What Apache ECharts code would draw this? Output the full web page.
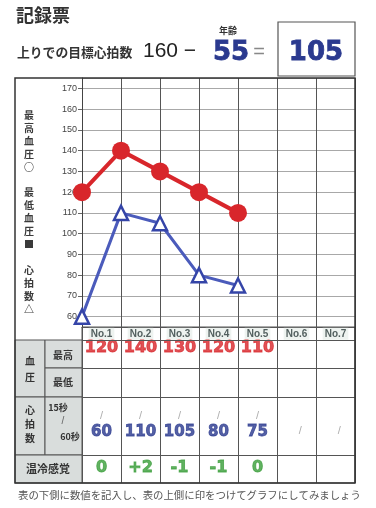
<!DOCTYPE html>
<html><head><meta charset="utf-8">
<script src="https://cdn.jsdelivr.net/npm/echarts@6/dist/echarts.min.js"></script>
<style>html,body{margin:0;padding:0;background:#fff}#c{width:376px;height:508px}</style>
</head><body><div id="c"></div>
<script>
// ---- data ----
const trials = ['No.1','No.2','No.3','No.4','No.5','No.6','No.7'];
const systolic = [120,140,130,120,110];
const heartRate = [60,110,105,80,75];
const thermal = ['0','+2','-1','-1','0'];
const baseRate = 160;
const age = 55;
const targetRate = 105;
const yMin = 55, yMax = 175;

// ---- layout (table rows, offsets from table top) ----
const rowLines = [13, 41, 70, 128];
const JP = '"Noto Sans CJK JP", sans-serif';
const NUM = '"Liberation Sans", Arial, sans-serif';
const BIG = '"DejaVu Sans", sans-serif';

const chart = echarts.init(document.getElementById('c'), null, {renderer:'canvas'});

function cellSeries(values, y, color, size, extra) {
  return Object.assign({
    type:'scatter', xAxisIndex:1, yAxisIndex:1, silent:true,
    symbolSize:1, itemStyle:{color:'rgba(0,0,0,0)'},
    data: values.map((v,i)=>({value:[i+0.5, y], name:String(v)})),
    label:{show:true, position:'inside', formatter:p=>p.name, color:color,
      fontSize:size, fontWeight:900, fontFamily:BIG,
      textBorderColor:color, textBorderWidth:0.8}
  }, extra||{});
}

const gfx = [];
// outer border
gfx.push({type:'rect', shape:{x:15,y:78,width:340,height:405}, style:{fill:'none', stroke:'#333', lineWidth:1.5}, z:100});
// left header cells
const cellStyle = {fill:'#d9dddc', stroke:'#555', lineWidth:1};
[[15,340,30,57],[45,340,37,28],[45,368,37,29],[15,397,30,58],[45,397,37,58],[15,455,67,28]].forEach(r=>{
  gfx.push({type:'rect', shape:{x:r[0],y:r[1],width:r[2],height:r[3]}, style:cellStyle, z:50});
});
const hdrText = (t,x,y,opt)=>gfx.push({type:'text', x:x, y:y, z:60, style:Object.assign({text:t, fill:'#333', font:'bold 10px '+JP, align:'center', verticalAlign:'middle'}, opt||{})});
hdrText('血\n圧', 30, 369, {lineHeight:16});
hdrText('最高', 63, 355);
hdrText('最低', 63, 382);
hdrText('心\n拍\n数', 30, 424, {lineHeight:14});
hdrText('15秒', 58, 408, {font:'bold 9px '+JP});
hdrText('/', 63, 421, {font:'10px '+NUM, fill:'#666'});
hdrText('60秒', 70, 437, {font:'bold 9px '+JP});
hdrText('温冷感覚', 48, 469, {font:'bold 11px '+JP});
// vertical legend text
hdrText('最\n高\n血\n圧\n○\n\n最\n低\n血\n圧\n■\n\n心\n拍\n数\n△', 29, 212, {lineHeight:12.9, font:'bold 10px '+JP, fill:'#3a3a3a'});
// title area
gfx.push({type:'text', x:16, y:15, style:{text:'記録票', font:'bold 18px '+JP, fill:'#333', verticalAlign:'middle'}});
gfx.push({type:'text', x:17, y:52, style:{text:'上りでの目標心拍数', font:'bold 12.8px '+JP, fill:'#333', verticalAlign:'middle'}});
gfx.push({type:'text', x:143, y:51, style:{text:baseRate+' −', font:'21px '+NUM, fill:'#222', verticalAlign:'middle'}});
gfx.push({type:'text', x:228, y:31, style:{text:'年齢', font:'bold 9px '+JP, fill:'#333', align:'center', verticalAlign:'middle'}});
gfx.push({type:'text', x:231, y:53, style:{text:String(age), font:'bold 26px '+BIG, fill:'#2b3a8f', align:'center', verticalAlign:'middle', stroke:'#2b3a8f', lineWidth:0.8}});
gfx.push({type:'text', x:259, y:52, style:{text:'=', font:'20px '+NUM, fill:'#888', align:'center', verticalAlign:'middle'}});
gfx.push({type:'rect', shape:{x:278,y:22,width:77,height:54}, style:{fill:'none', stroke:'#555', lineWidth:1.2}});
gfx.push({type:'text', x:316, y:53, style:{text:String(targetRate), font:'bold 26px '+BIG, fill:'#2b3a8f', align:'center', verticalAlign:'middle', stroke:'#2b3a8f', lineWidth:0.8}});
// footer
gfx.push({type:'text', x:18, y:495, style:{text:'表の下側に数値を記入し、表の上側に印をつけてグラフにしてみましょう', font:'10.4px '+JP, fill:'#555', verticalAlign:'middle'}});

const option = {
  animation:false,
  backgroundColor:'#fff',
  grid:[
    {left:82, right:21, top:78, height:249, show:false},
    {left:82, right:21, top:327, height:156, show:true, borderColor:'#555', borderWidth:1, backgroundColor:'#fff'}
  ],
  xAxis:[
    {gridIndex:0, type:'value', min:0, max:7, interval:1,
      axisLine:{show:true, lineStyle:{color:'#555'}}, axisTick:{show:false}, axisLabel:{show:false},
      splitLine:{show:true, lineStyle:{color:'#555', width:1}}},
    {gridIndex:1, type:'value', min:0, max:7, interval:1,
      axisLine:{show:false}, axisTick:{show:false}, axisLabel:{show:false},
      splitLine:{show:true, lineStyle:{color:'#555', width:1}}}
  ],
  yAxis:[
    {gridIndex:0, type:'value', min:yMin, max:yMax, splitNumber:12,
      axisLine:{show:true, lineStyle:{color:'#444'}},
      axisTick:{show:true, length:4, lineStyle:{color:'#666'}},
      axisLabel:{margin:5, color:'#444', fontSize:9, fontFamily:NUM,
        formatter:v=> (v%10===0 ? String(v) : ''), showMinLabel:false, showMaxLabel:false},
      splitLine:{show:true, lineStyle:{color:'#a8a8a8', width:1}}},
    {gridIndex:1, type:'value', min:0, max:156, inverse:true, show:false, splitLine:{show:false}}
  ],
  graphic: gfx,
  series:[
    {type:'line', name:'最高血圧', xAxisIndex:0, yAxisIndex:0, silent:true,
      data: systolic.map((v,i)=>[i,v]), symbol:'circle', symbolSize:18,
      itemStyle:{color:'#d8262b'}, lineStyle:{color:'#d8262b', width:4}, z:5},
    {type:'line', name:'心拍数', xAxisIndex:0, yAxisIndex:0, silent:true,
      data: heartRate.map((v,i)=>[i,v]), symbol:'triangle', symbolSize:14,
      itemStyle:{color:'#fff', borderColor:'#3545a8', borderWidth:2.5}, lineStyle:{color:'#4b5bbb', width:3}, z:4},
    // table row lines
    {type:'line', xAxisIndex:1, yAxisIndex:1, data:[], silent:true,
      markLine:{symbol:'none', silent:true, label:{show:false},
        lineStyle:{color:'#555', width:1, type:'solid'},
        data: rowLines.map(y=>({yAxis:y}))}},
    // header row
    cellSeries(trials, 6.8, '#2a3a3a', 10, {label:{show:true, position:'inside', formatter:p=>p.name, color:'#2a3a3a', fontSize:10, fontWeight:'bold', fontFamily:NUM, backgroundColor:'#eaf0ec', padding:[1,2]}}),
    cellSeries(systolic, 21, '#d8262b', 16),
    cellSeries(heartRate.map(()=>'/'), 89, '#999', 11, {label:{show:true, position:'inside', formatter:'/', color:'#999', fontSize:11, fontFamily:NUM}}),
    cellSeries([], 0, '#999', 11, {data:[{value:[5.6,104],name:'/'},{value:[6.6,104],name:'/'}], label:{show:true, position:'inside', formatter:'/', color:'#999', fontSize:11, fontFamily:NUM}}),
    cellSeries(heartRate, 105, '#2b3a8f', 15),
    cellSeries(thermal, 141, '#3a9e3a', 16)
  ]
};
chart.setOption(option);
</script>
</body></html>
